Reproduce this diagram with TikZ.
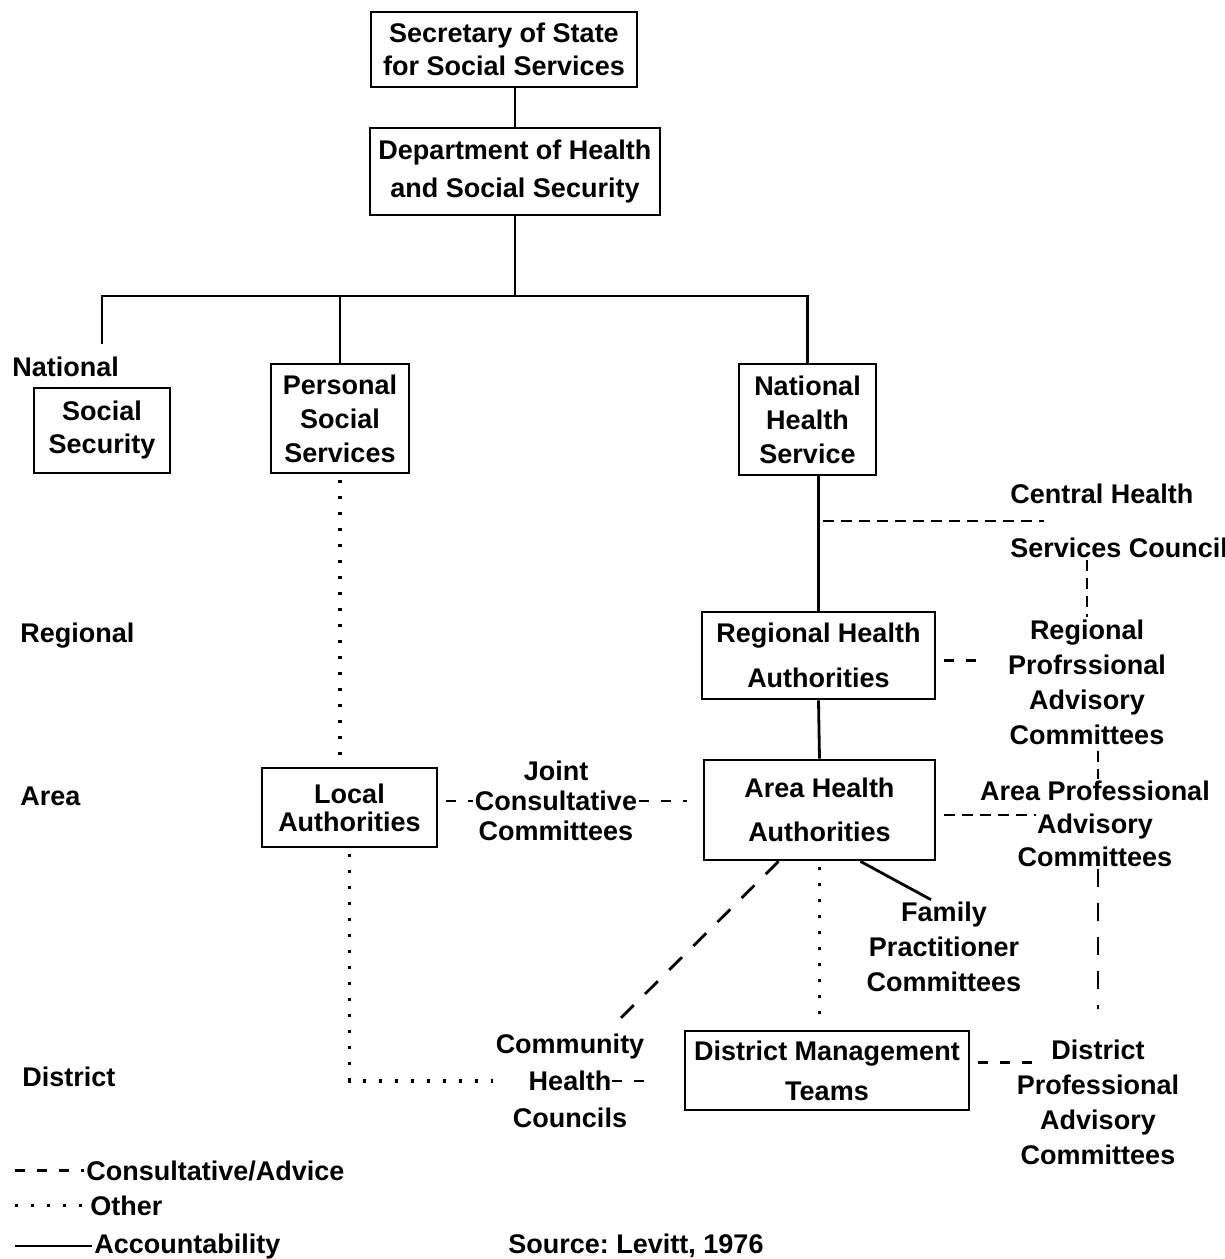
\documentclass[tikz,border=0pt]{standalone}
\usepackage{fontspec}
\setmainfont{Liberation Sans}
\frenchspacing
\tikzstyle{office}=[draw, line width=1.4pt, align=center, inner sep=0pt]
\tikzstyle{notes}=[align=center, inner sep=1pt]
\tikzstyle{account}=[line width=1.4pt]
\tikzstyle{consult}=[line width=1.4pt, dash pattern=on 5.5pt off 3.5pt]
\tikzstyle{sparse}=[line width=1.4pt, dash pattern=on 5pt off 6pt]
\tikzstyle{longdash}=[line width=1.4pt, dash pattern=on 9pt off 8pt]
\tikzstyle{other}=[line width=1.6pt, dash pattern=on 1.5pt off 6.5pt]
\tikzset{lead/.style={font=\fontsize{13.5}{#1}\selectfont\bfseries}}
\newcommand{\office}{\node[office]}

\begin{document}
\begin{tikzpicture}[x=0.5pt, y=-0.5pt
    ,font=\fontsize{13.5}{17}\selectfont\bfseries
]
\useasboundingbox (0,0) rectangle (1225,1259);
% boxes
\office[minimum width=133pt, minimum height=37.5pt, lead=16.5pt] (sec) at (504,49.5) {Secretary of State\\for Social Services};
\office[minimum width=145pt, minimum height=43.5pt, lead=19pt] (dhss) at (515,171.5) {Department of Health\\and Social Security};
\office[minimum width=68pt, minimum height=42.5pt, lead=16.5pt] (ss) at (102,430.5) {Social\\Security};
\office[minimum width=69pt, minimum height=54.5pt, lead=17pt] (pss) at (340,418.5) {Personal\\Social\\Services};
\office[minimum width=68.5pt, minimum height=55.5pt, lead=17pt] (nhs) at (807.5,419.5) {National\\Health\\Service};
\office[minimum width=116.5pt, minimum height=43.5pt, lead=22.5pt] (rha) at (818.5,655.5) {Regional Health\\Authorities};
\office[minimum width=115.5pt, minimum height=50pt, lead=22pt] (aha) at (819.5,810) {Area Health\\Authorities};
\office[minimum width=87.5pt, minimum height=39.5pt, lead=14pt] (la) at (349.5,807.5) {Local\\Authorities};
\office[minimum width=142pt, minimum height=39.5pt, lead=20pt] (dmt) at (827,1070.5) {District Management\\Teams};
% levels
\node[notes, anchor=base west] (national) at (10,376) {National};
\node[notes, anchor=base west] (regional) at (18,642) {Regional};
\node[notes, anchor=base west] (area) at (18,805) {Area};
\node[notes, anchor=base west] (district) at (20,1086) {District};
% committees and councils
\node[notes, anchor=west, align=left, lead=27pt] (chsc) at (1008,521) {Central Health\\Services Council};
\node[notes, lead=17.5pt] (rpac) at (1087,682) {Regional\\Profrssional\\Advisory\\Committees};
\node[notes, lead=16.5pt] (apac) at (1095,824) {Area Professional\\Advisory\\Committees};
\node[notes, lead=15pt] (jcc) at (556,801) {Joint\\Consultative\\Committees};
\node[notes, lead=17.5pt] (fpc) at (944,947) {Family\\Practitioner\\Committees};
\node[notes, lead=18.5pt] (chc) at (570,1081) {Community\\Health\\Councils};
\node[notes, lead=17.5pt] (dpac) at (1098,1102) {District\\Professional\\Advisory\\Committees};
% key
\coordinate (keyedge) at (15,0);
\node[notes, anchor=base west] (legconsult) at (84,1180) {Consultative/Advice};
\node[notes, anchor=base west] (legother) at (88,1215) {Other};
\node[notes, anchor=base west] (legaccount) at (92,1253) {Accountability};
\node[notes, anchor=base] (src) at (636,1253) {Source: Levitt, 1976};

\coordinate (bar) at (0,296);
% accountability
\draw[account] (dhss.north |- sec.south) -- (dhss.north);
\draw[account] (dhss.south) -- (dhss.south |- bar);
\draw[account, shorten <=5pt] (ss.north |- national.north) |- (nhs.north |- bar) -- (nhs.north);
\draw[account] (pss.north) -- (pss.north |- bar);
\draw[account] (rha.north |- nhs.south) -- (rha.north);
\draw[account] (rha.south) -- (aha.north);
\draw[account] ([xshift=20.5pt]aha.south) -- ([xshift=-6.5pt]fpc.north);
% consultative
\draw[consult, shorten <=2pt] (rha.north |- chsc) -- ([xshift=18pt]chsc.west);
\draw[consult] (rpac.north |- chsc.south) -- (rpac.north);
\draw[sparse, shorten <=4pt, shorten >=12pt] ([yshift=-2.5pt]rha.east) -- ([yshift=-2.5pt]rha.east -| rpac.west);
\draw[consult] ([xshift=5.5pt,yshift=7pt]rpac.south) -- ([xshift=5.5pt]rpac.south |- apac.north);
\draw[consult, shorten <=4pt, shorten >=29.5pt] ([yshift=-2.5pt]aha.east) -- ([yshift=-2.5pt]aha.east -| apac.south);
\draw[longdash, shorten >=14pt] (dpac.north |- apac.south) -- (dpac.north);
\draw[sparse, shorten <=4pt] (la.east |- jcc) -- (jcc.west);
\draw[sparse, shorten >=8pt] (jcc.east) -- (aha.west |- jcc);
\draw[longdash, shorten >=4pt] ([xshift=-20.5pt]aha.south) -- ([xshift=18.5pt]chc.north);
\draw[sparse, shorten >=14pt] ([xshift=21pt]chc.center) -- (dmt.west |- chc.center);
\draw[sparse, shorten <=4pt, shorten >=27pt] ([yshift=4pt]dmt.east) -- ([yshift=4pt]dmt.east -| dpac.north);
% other
\draw[other, shorten <=3pt, shorten >=3pt] (pss.south) -- (pss.south |- la.north);
\draw[other, shorten <=3pt] (la.south) |- (chc.west);
\draw[other, shorten <=3pt, shorten >=6pt] (aha.south) -- (aha.south |- dmt.north);
% key lines
\draw[sparse] (keyedge |- legconsult.west) -- (legconsult.west);
\draw[other] (keyedge |- legother.west) -- (legother.west);
\draw[account] (keyedge |- legaccount.west) -- (legaccount.west);
\end{tikzpicture}
\end{document}
